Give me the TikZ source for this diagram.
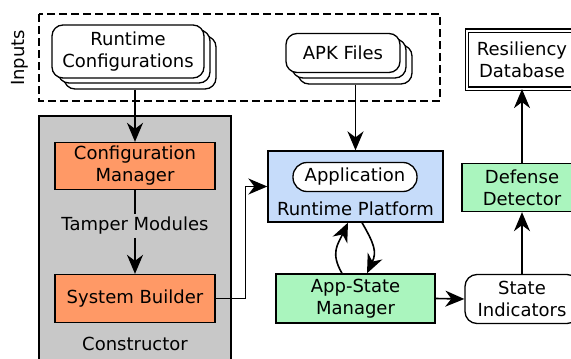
\documentclass[tikz,border=0pt]{standalone}
\usepackage{fontspec}
\setmainfont{DejaVu Sans}
\usetikzlibrary{arrows.meta,positioning}
\definecolor{constrgray}{HTML}{C8C8C8}
\definecolor{orangebox}{HTML}{FF9966}
\definecolor{bluebox}{HTML}{C6DCFA}
\definecolor{greenbox}{HTML}{AAF5BE}
\tikzset{
  every node/.style={font=\fontsize{18}{22}\selectfont, align=center, inner sep=0pt},
  line/.style={line width=1.6pt},
  arr/.style={line width=1.6pt, -{Stealth[length=19pt,width=16pt,inset=6pt]}},
  stackbox/.style={draw, line width=1.3pt, fill=white, rounded corners=11pt},
  plainbox/.style={draw, line width=1.3pt},
}
\begin{document}
\begin{tikzpicture}[x=1pt,y=-1pt]
\useasboundingbox (0,0) rectangle (571,359);
\clip (0,0) rectangle (571,359);

% input files group
\draw[line width=1.3pt, dash pattern=on 8pt off 4pt] (39,14) rectangle (440,101);
\node[rotate=90] (inputs) at (20,58) {Inputs};

% runtime configurations (stacked)
\node[stackbox, minimum width=152pt, minimum height=53pt] (rc3) at (140,62.5) {};
\node[stackbox, minimum width=152pt, minimum height=53pt] (rc2) at (134,56.5) {};
\node[stackbox, minimum width=152pt, minimum height=53pt] (rc) at (128,51.5) {Runtime\\Configurations};

% apk files (stacked)
\node[stackbox, minimum width=114pt, minimum height=39pt] (apk3) at (355,64.5) {};
\node[stackbox, minimum width=114pt, minimum height=39pt] (apk2) at (349,58.5) {};
\node[stackbox, minimum width=114pt, minimum height=39pt] (apk) at (343,53) {APK Files};

% constructor
\draw[line width=1.3pt, fill=constrgray] (39,116) rectangle (231,375);
\node (constr) at (135,344) {Constructor};
\node[plainbox, fill=orangebox, minimum width=160pt, minimum height=47pt] (cm) at (135,166) {Configuration\\Manager};
\node[inner sep=3pt] (tm) at (135,226) {Tamper Modules};
\node[plainbox, fill=orangebox, minimum width=160pt, minimum height=48pt] (sb) at (135,298.5) {System Builder};

% runtime platform
\node[plainbox, fill=bluebox, minimum width=175pt, minimum height=71pt] (rp) at (355.5,186.5) {};
\node[draw, line width=1.3pt, fill=white, rounded corners=14pt, minimum width=124pt, minimum height=29pt] (app) at (355,177) {Application};
\node (rptext) at (355.5,209) {Runtime Platform};

% app-state manager and indicators
\node[plainbox, fill=greenbox, minimum width=159pt, minimum height=49pt] (asm) at (355.5,298.5) {App-State\\Manager};
\node[draw, line width=1.3pt, fill=white, rounded corners=12pt, minimum width=114pt, minimum height=49pt] (si) at (522,299) {State\\Indicators};
\node[plainbox, fill=greenbox, minimum width=120pt, minimum height=48pt] (dd) at (522,187.5) {Defense\\Detector};
\node[draw, line width=1.2pt, double=white, double distance=2pt, minimum width=110pt, minimum height=58pt] (rdb) at (522,59.5) {Resiliency\\Database};

% connectors
\draw[arr] (cm.north |- rc3.south) -- (cm.north);
\draw[line] (cm.south) -- (tm.north);
\draw[arr] (tm.south) -- ++(0,10) -- (sb.north);
\draw[arr] (sb.east) -- ++(30,0) |- (rp.west);
\draw[arr] (rp.north |- apk3.south) -- (rp.north);
\draw[arr] ([xshift=-13.5pt]asm.north) to[out=120,in=-115,looseness=1.2] ([xshift=-7.5pt]rp.south);
\draw[arr] ([xshift=6.5pt]rp.south) to[out=-60,in=65,looseness=1.2] ([xshift=11.5pt]asm.north);
\draw[arr] (asm.east) -- (si.west);
\draw[arr] (si.north) -- (dd.south);
\draw[arr] (dd.north) -- (rdb.south);
\end{tikzpicture}
\end{document}
